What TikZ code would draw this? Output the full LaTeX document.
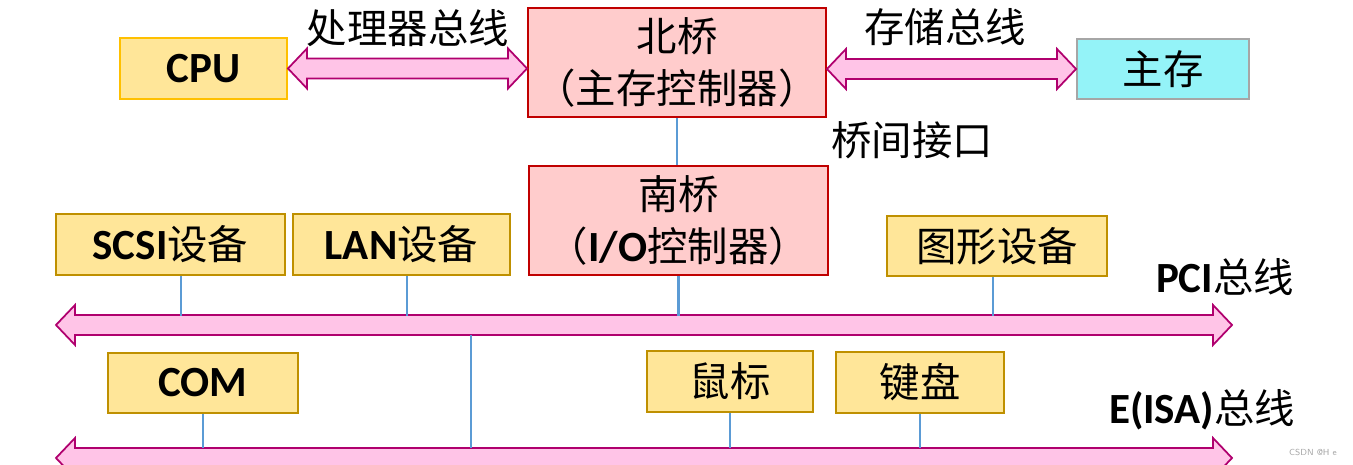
\documentclass[tikz,border=0pt]{standalone}
\usepackage{fontspec}
\setmainfont{Noto Sans CJK SC}
\newfontfamily\enfont{Carlito}
\newcommand{\en}[1]{{\enfont\bfseries\fontsize{24.5pt}{30pt}\selectfont #1}}
\usetikzlibrary{calc}

\definecolor{devfill}{HTML}{FFE699}
\definecolor{devdraw}{HTML}{BF9000}
\definecolor{cpudraw}{HTML}{FFC000}
\definecolor{brfill}{HTML}{FFCCCC}
\definecolor{brdraw}{HTML}{C00000}
\definecolor{memfill}{HTML}{94F3F8}
\definecolor{memdraw}{HTML}{A6A6A6}
\definecolor{busfill}{HTML}{FFC4E7}
\definecolor{busdraw}{HTML}{B0006E}
\definecolor{linkblue}{HTML}{5B9BD5}

\tikzset{
	box/.style={draw, line width=1.1pt, inner sep=0pt, align=center,
		font=\fontsize{23pt}{29.5pt}\selectfont},
	dev/.style={box, fill=devfill, draw=devdraw},
	bridge/.style={box, fill=brfill, draw=brdraw},
	mem/.style={box, fill=memfill, draw=memdraw},
	bus/.style={draw=busdraw, fill=busfill, line width=1pt, line join=miter},
	link/.style={draw=linkblue, line width=1.6pt},
	lbl/.style={inner sep=0pt, font=\fontsize{23pt}{29.5pt}\selectfont}
}

% double-headed bus between two points on one level
\newcommand{\busarrow}[2]{%
	\draw[bus] (#1) -- ++(19,-20) -- ++(0,10) -- ($(#2)+(-19,-10)$) -- ++(0,-10)
		-- (#2) -- ++(-19,20) -- ++(0,-10) -- ($(#1)+(19,10)$) -- ++(0,10) -- cycle;}

\begin{document}
\begin{tikzpicture}[x=0.02cm, y=-0.02cm]
	\useasboundingbox (0,0) rectangle (1353,465);

	\node[box, draw=cpudraw, fill=devfill, minimum width=167*0.02cm, minimum height=61*0.02cm] (cpu) at (203.5,68.5) {\en{CPU}};
	\node[bridge, minimum width=298*0.02cm, minimum height=109*0.02cm] (nb) at (677,62.5) {北桥\\（主存控制器）};
	\node[mem, minimum width=172*0.02cm, minimum height=60*0.02cm] (mem) at (1163,69) {主存};
	\node[bridge, minimum width=299*0.02cm, minimum height=109*0.02cm] (sb) at (678.5,220.5) {南桥\\（\en{I/O}控制器）};

	\node[dev, minimum width=229*0.02cm, minimum height=61*0.02cm] (scsi) at (170.5,244.5) {\en{SCSI}设备};
	\node[dev, minimum width=217*0.02cm, minimum height=61*0.02cm] (lan) at (401.5,244.5) {\en{LAN}设备};
	\node[dev, minimum width=220*0.02cm, minimum height=60*0.02cm] (gfx) at (997,246) {图形设备};
	\node[dev, minimum width=190*0.02cm, minimum height=60*0.02cm] (com) at (203,383) {\en{COM}};
	\node[dev, minimum width=166*0.02cm, minimum height=61*0.02cm] (mouse) at (730,381.5) {鼠标};
	\node[dev, minimum width=168*0.02cm, minimum height=61*0.02cm] (kbd) at (920,382.5) {键盘};

	\node[lbl] (cpubus) at (408,28) {处理器总线};
	\node[lbl] (membus) at (945,27) {存储总线};
	\node[lbl] (bridgeif) at (912,140) {桥间接口};
	\node[lbl] (pcilbl) at (1225,277) {\en{PCI}总线};
	\node[lbl] (isalbl) at (1202,410) {\en{E(ISA)}总线};
	\node[inner sep=0pt, text=gray!70, font=\sffamily\fontsize{5pt}{6pt}\selectfont] (mark) at (1313,452) {CSDN @H e};

	\coordinate (pciL) at (56,325);
	\coordinate (pciR) at (1232,325);
	\coordinate (isaL) at (56,458);
	\coordinate (isaR) at (1232,458);
	\coordinate (pcitop) at (0,316);
	\coordinate (isatop) at (0,448);
	\coordinate (tap1) at (471,335);
	\coordinate (tap2) at (471,448);

	\busarrow{cpu.east}{cpu.east -| nb.west}
	\busarrow{nb.east |- mem.west}{mem.west}
	\busarrow{pciL}{pciR}
	\busarrow{isaL}{isaR}

	\draw[link] (nb.south) -- (nb.south |- sb.north);
	\draw[link] ([xshift=0.21cm]scsi.south) -- ([xshift=0.21cm]scsi.south |- pcitop);
	\draw[link] ([xshift=0.11cm]lan.south) -- ([xshift=0.11cm]lan.south |- pcitop);
	\draw[link] (sb.south) -- (sb.south |- pcitop);
	\draw[link] ([xshift=-0.08cm]gfx.south) -- ([xshift=-0.08cm]gfx.south |- pcitop);
	\draw[link] (tap1) -- (tap2);
	\draw[link] (com.south) -- (com.south |- isatop);
	\draw[link] (mouse.south) -- (mouse.south |- isatop);
	\draw[link] (kbd.south) -- (kbd.south |- isatop);
\end{tikzpicture}
\end{document}
